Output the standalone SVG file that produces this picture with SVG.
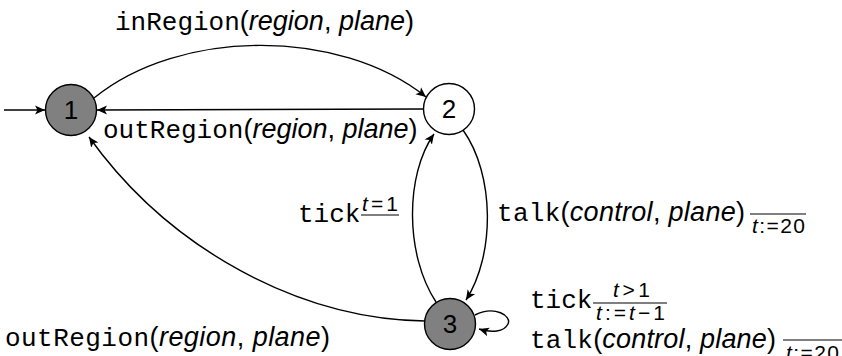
<svg xmlns="http://www.w3.org/2000/svg" width="842" height="356" viewBox="0 0 842 356">
<defs>
<marker id="ah" markerUnits="userSpaceOnUse" markerWidth="12" markerHeight="12" refX="10" refY="5" orient="auto" viewBox="0 0 12 10">
<path d="M0,0.5 L10,5 L0,9.5 L2.5,5 z" fill="#000"/>
</marker>
<style>
.edge{fill:none;stroke:#000;stroke-width:1.4;marker-end:url(#ah)}
.node{stroke:#000;stroke-width:1.4}
.nl{font-family:"Liberation Sans",Arial,sans-serif;font-size:26px;text-anchor:middle}
.lab{font-family:"Liberation Sans",Arial,sans-serif;font-size:27px}
.tt{font-family:"Liberation Mono","Courier New",monospace;font-size:26px}
.it{font-style:italic}
.sm{font-family:"Liberation Sans",Arial,sans-serif;font-size:21px}
.bar{stroke:#555;stroke-width:1.4}
</style>
</defs>
<g id="edges">
<path class="edge" d="M4,110 L45,110"/>
<path class="edge" d="M94,98 C180,28 340,28 426,97"/>
<path class="edge" d="M424,109 L97,110"/>
<path class="edge" d="M425,321 C300,319 170,250 89,137"/>
<path class="edge" d="M463,130 C495,175 495,255 466,300"/>
<path class="edge" d="M436,302 C405,255 405,175 434,134"/>
<path class="edge" d="M475,315 C495,305 512,316 508,324 C504,332 492,333 479,329"/>
</g>
<g id="node1"><circle class="node" cx="71" cy="110" r="25.5" fill="#808080"/><text class="nl" x="71" y="119">1</text></g>
<g id="node2"><circle class="node" cx="449" cy="109" r="25.5" fill="#fff"/><text class="nl" x="449" y="118">2</text></g>
<g id="node3"><circle class="node" cx="450" cy="324" r="25.5" fill="#808080"/><text class="nl" x="450" y="333">3</text></g>
<g id="labels">
<text class="lab" x="115" y="30"><tspan class="tt">inRegion</tspan>(<tspan class="it">region</tspan>, <tspan class="it">plane</tspan>)</text>
<text class="lab" x="103" y="138"><tspan class="tt">outRegion</tspan>(<tspan class="it">region</tspan>, <tspan class="it">plane</tspan>)</text>
<text class="lab" x="5" y="346" textLength="325"><tspan class="tt">outRegion</tspan>(<tspan class="it">region</tspan>, <tspan class="it">plane</tspan>)</text>
<text class="tt" x="298" y="222">tick</text>
<text class="sm" x="362" y="211" textLength="36" lengthAdjust="spacing"><tspan class="it">t</tspan>=1</text>
<line class="bar" x1="361" y1="215" x2="399" y2="215"/>
<text class="lab" x="497" y="221" textLength="248"><tspan class="tt">talk</tspan>(<tspan class="it">control</tspan>, <tspan class="it">plane</tspan>)</text>
<line class="bar" x1="750" y1="214" x2="806" y2="214"/>
<text class="sm" x="752" y="233" textLength="53" lengthAdjust="spacing"><tspan class="it">t</tspan>:=20</text>
<text class="tt" x="530" y="308">tick</text>
<text class="sm" x="613" y="297" textLength="37" lengthAdjust="spacing"><tspan class="it">t</tspan>&gt;1</text>
<line class="bar" x1="593" y1="303" x2="667" y2="303"/>
<text class="sm" x="596" y="320" textLength="69" lengthAdjust="spacing"><tspan class="it">t</tspan>:=<tspan class="it">t</tspan>−1</text>
<text class="lab" x="530" y="348" textLength="246"><tspan class="tt">talk</tspan>(<tspan class="it">control</tspan>, <tspan class="it">plane</tspan>)</text>
<line class="bar" x1="783" y1="340" x2="842" y2="340"/>
<text class="sm" x="786" y="360" textLength="53" lengthAdjust="spacing"><tspan class="it">t</tspan>:=20</text>
</g>
</svg>
